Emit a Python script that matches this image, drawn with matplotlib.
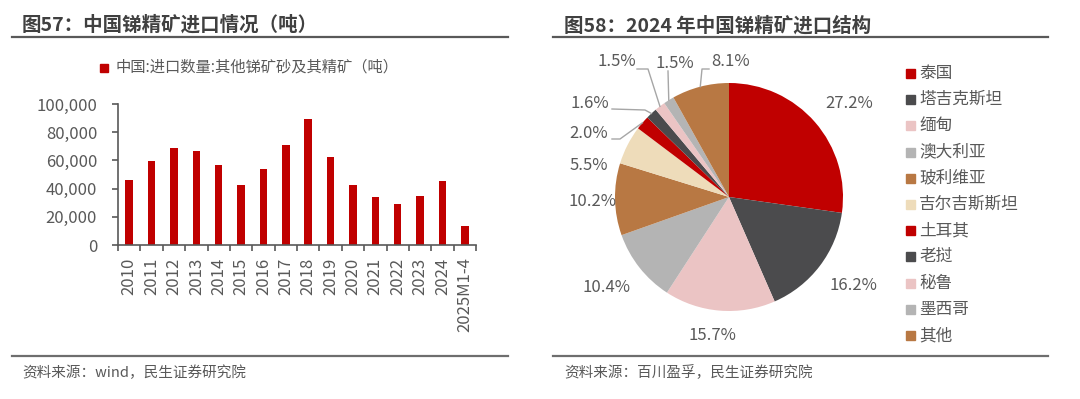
import matplotlib
matplotlib.use("Agg")
import matplotlib.pyplot as plt
from matplotlib.patches import Rectangle
from matplotlib.lines import Line2D
import numpy as np

plt.rcParams['font.family'] = ['Noto Sans CJK SC', 'DejaVu Sans']

# ---------------- data ----------------
years = ["2010", "2011", "2012", "2013", "2014", "2015", "2016", "2017",
         "2018", "2019", "2020", "2021", "2022", "2023", "2024", "2025M1-4"]
imports = [46100, 59800, 68600, 66400, 56500, 42600, 53900, 70700,
           89100, 62400, 42600, 33800, 28800, 34800, 45200, 13500]
bar_series_name = "中国:进口数量:其他锑矿砂及其精矿（吨）"
yticks = [0, 20000, 40000, 60000, 80000, 100000]

countries = ["泰国", "塔吉克斯坦", "缅甸", "澳大利亚", "玻利维亚", "吉尔吉斯斯坦",
             "土耳其", "老挝", "秘鲁", "墨西哥", "其他"]
shares = [27.2, 16.2, 15.7, 10.4, 10.2, 5.5, 2.0, 1.6, 1.5, 1.5, 8.1]
pie_colors = ["#C00000", "#4B4B4D", "#EBC4C4", "#B4B4B4", "#B87843", "#EEDCBA",
              "#C00000", "#4B4B4D", "#EBC4C4", "#B4B4B4", "#B87843"]

title_left = "图57：中国锑精矿进口情况（吨）"
title_right = "图58：2024 年中国锑精矿进口结构"
source_left = "资料来源：wind，民生证券研究院"
source_right = "资料来源：百川盈孚，民生证券研究院"

# ---------------- figure ----------------
W, H = 1080, 399
fig = plt.figure(figsize=(W / 100, H / 100), dpi=100)
fig.patch.set_facecolor("white")

def fx(x):
    return x / W

def fy(y):
    return 1 - y / H

TXT = "#595959"
DARK = "#404040"

# titles and rules
fig.text(fx(22), fy(25), title_left, fontsize=14, fontweight="bold", color=DARK,
         va="center", ha="left")
fig.text(fx(564), fy(26), title_right, fontsize=14, fontweight="bold", color=DARK,
         va="center", ha="left")
for x0, x1 in [(12, 508), (553, 1048)]:
    fig.add_artist(Line2D([fx(x0), fx(x1)], [fy(36.5), fy(36.5)], color="#595959", lw=1.6))
    fig.add_artist(Line2D([fx(x0), fx(x1)], [fy(355.5), fy(355.5)], color="#6e6e6e", lw=1.6))
fig.text(fx(22), fy(373), source_left, fontsize=10.5, color=TXT, va="center", ha="left")
fig.text(fx(564), fy(373), source_right, fontsize=10.5, color=TXT, va="center", ha="left")

# ---------------- bar chart ----------------
ax = fig.add_axes([fx(118), fy(245), fx(476) - fx(118), fy(104) - fy(245)])
x = np.arange(len(years))
ax.bar(x, imports, width=0.33, color="#C00000", zorder=2)
ax.set_xlim(-0.5, len(years) - 0.5)
ax.set_ylim(0, 100000)
ax.set_yticks(yticks)
ax.set_yticklabels([f"{v:,}" for v in yticks])
ax.set_xticks(x)
ax.set_xticklabels(years, rotation=90)
ax.set_xticks(np.arange(-0.5, len(years), 1.0), minor=True)
ax.tick_params(axis="x", which="major", length=0, pad=9, labelsize=12, colors=TXT)
ax.tick_params(axis="x", which="minor", length=4, width=1.2, color="#595959")
ax.tick_params(axis="y", length=4, width=1.2, pad=11, labelsize=12, labelcolor=TXT,
               color="#595959")
for s in ["top", "right"]:
    ax.spines[s].set_visible(False)
for s in ["left", "bottom"]:
    ax.spines[s].set_color("#595959")
    ax.spines[s].set_linewidth(1.2)
ax.set_facecolor("none")

# bar legend
fig.add_artist(Rectangle((fx(100), fy(72)), fx(8), fy(0) - fy(8), color="#C00000",
                         transform=fig.transFigure))
fig.text(fx(116), fy(67.5), bar_series_name, fontsize=11, color=TXT, va="center", ha="left")

# ---------------- pie chart ----------------
cx, cy, R = 729, 197, 114
half_w, half_h = 230, 184
pax = fig.add_axes([fx(cx - half_w), fy(cy + half_h), 2 * half_w / W, 2 * half_h / H])
pax.set_xlim(-half_w / R, half_w / R)
pax.set_ylim(-half_h / R, half_h / R)
pax.axis("off")
wedges, _ = pax.pie(shares, colors=pie_colors, startangle=90, counterclock=False,
                    radius=1.0, center=(0, 0), frame=False)
pax.set_xlim(-half_w / R, half_w / R)
pax.set_ylim(-half_h / R, half_h / R)

def to_data(px, py):
    return ((px - cx) / R, (cy - py) / R)

# label pixel positions (center of text)
label_pos = [(849, 103), (853, 286), (712, 336), (607, 287), (593, 202), (589, 166),
             (589, 133), (590, 103), (617, 62), (675, 64), (731, 62)]
for i, (s, (px, py)) in enumerate(zip(shares, label_pos)):
    lx, ly = to_data(px, py)
    pax.text(lx, ly, f"{s:.1f}%", fontsize=12, color=TXT, ha="center", va="center")

# leader lines for small slices: (label index, elbow pixel, text-side pixel)
leaders = {
    6: [(612, 139), (620, 139)],
    7: [(612, 109), (645, 110)],
    8: [(637, 69), (648, 69)],
    9: [(668, 71), (668, 71)],
    10: [(709, 69), (702, 69)],
}
for i, pts in leaders.items():
    w = wedges[i]
    mid = np.deg2rad((w.theta1 + w.theta2) / 2)
    ex, ey = np.cos(mid) * 1.0, np.sin(mid) * 1.0
    xs = [to_data(*p)[0] for p in pts] + [ex]
    ys = [to_data(*p)[1] for p in pts] + [ey]
    pax.plot(xs, ys, color="#A6A6A6", lw=1.0)

# pie legend
for i, (name, col) in enumerate(zip(countries, pie_colors)):
    yc = 73.5 + i * 26.2
    fig.add_artist(Rectangle((fx(906), fy(yc + 4.5)), fx(9), fy(0) - fy(9), color=col,
                             transform=fig.transFigure))
    fig.text(fx(919), fy(yc), name, fontsize=12, color=TXT, va="center", ha="left")

fig.savefig("out.png", dpi=100)
